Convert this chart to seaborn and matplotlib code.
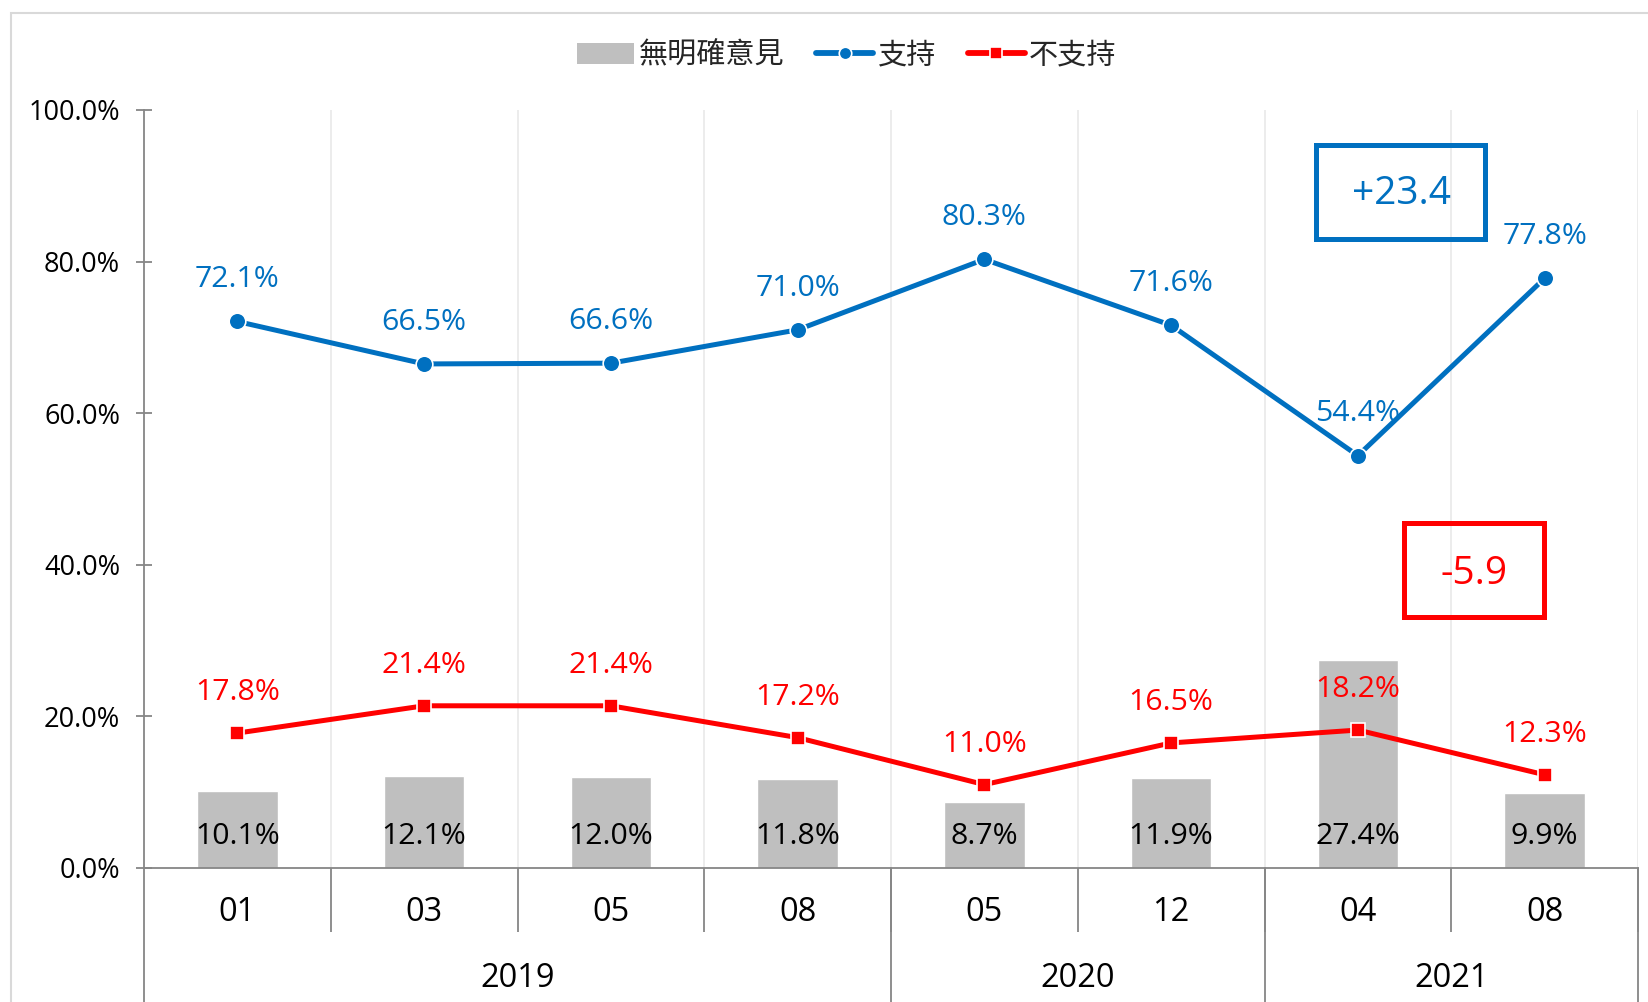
import matplotlib
matplotlib.use('Agg')
import matplotlib.pyplot as plt
from matplotlib.lines import Line2D
from matplotlib.patches import Patch, Rectangle
from matplotlib.ticker import FuncFormatter
import numpy as np
import pandas as pd
import seaborn as sns

# data
months = ['01', '03', '05', '08', '05', '12', '04', '08']
years = ['2019', '2020', '2021']
year_spans = [(0, 3), (4, 5), (6, 7)]
no_opinion = [10.1, 12.1, 12.0, 11.8, 8.7, 11.9, 27.4, 9.9]
support = [72.1, 66.5, 66.6, 71.0, 80.3, 71.6, 54.4, 77.8]
oppose = [17.8, 21.4, 21.4, 17.2, 11.0, 16.5, 18.2, 12.3]
series_names = ['無明確意見', '支持', '不支持']
change_support = '+23.4'
change_oppose = '-5.9'

BLUE = '#0070C0'
RED = '#FF0000'
GRAY = '#BFBFBF'
AXIS = '#868686'

sns.set_style('white')
plt.rcParams['font.family'] = ['Open Sans', 'Noto Sans CJK TC']

df = pd.DataFrame({'pos': range(len(months)), 'month': months,
                   'none': no_opinion, 'yes': support, 'no': oppose})

W, H = 1648, 1002
fig = plt.figure(figsize=(W / 100, H / 100), dpi=100)
ax = fig.add_axes([144 / W, 1 - 868 / H, (1638 - 144) / W, 758 / H])

# outer chart frame
fig.patches.append(Rectangle((11 / W, -0.05), 1.2, 1 - 13 / H + 0.05, transform=fig.transFigure,
                             fill=False, edgecolor='#D9D9D9', lw=1.5))

sns.barplot(data=df, x='pos', y='none', color=GRAY, saturation=1, width=0.43, ax=ax, zorder=2)
sns.lineplot(data=df, x='pos', y='yes', color=BLUE, lw=3.6, marker='o', ms=12,
             mec='white', mew=1.2, ax=ax, zorder=4)
sns.lineplot(data=df, x='pos', y='no', color=RED, lw=3.6, marker='s', ms=10.5,
             mec='white', mew=1.2, ax=ax, zorder=4)

ax.set_xlim(-0.5, len(months) - 0.5)
ax.set_ylim(0, 100)
ax.set_xlabel('')
ax.set_ylabel('')

for s in ['top', 'right']:
    ax.spines[s].set_visible(False)
for s in ['left', 'bottom']:
    ax.spines[s].set_color(AXIS)
    ax.spines[s].set_linewidth(1.3)

ax.set_yticks(np.arange(0, 101, 20))
ax.yaxis.set_major_formatter(FuncFormatter(lambda v, p: f'{v:.1f}%'))
ax.tick_params(axis='y', left=True, direction='inout', length=11.5, width=1.3, color=AXIS,
               labelsize=19.5, pad=11.5, labelcolor='black')

ax.set_xticks(range(len(months)), months)
ax.set_xticks(np.arange(0.5, len(months), 1), minor=True)
ax.tick_params(axis='x', which='major', bottom=True, length=0, labelsize=23.5, pad=20,
               labelcolor='black')
ax.tick_params(axis='x', which='minor', bottom=True, direction='out', length=46, width=1.3,
               color=AXIS)
ax.grid(False)
ax.grid(which='minor', axis='x', color='#EBEBEB', lw=1.3, zorder=0)
ax.set_axisbelow(True)

# year level of the category axis
trans = ax.get_xaxis_transform()
bounds = [a - 0.5 for a, b in year_spans] + [year_spans[-1][1] + 0.5]
for b in bounds:
    ax.add_line(Line2D([b, b], [0, -0.2], transform=trans, color=AXIS, lw=1.3, clip_on=False))
for name, (a, b) in zip(years, year_spans):
    ax.text((a + b) / 2, -0.146, name, transform=trans, ha='center', va='center',
            fontsize=23.5, color='black')

# data labels
for i, v in enumerate(support):
    ax.annotate(f'{v:.1f}%', (i, v), xytext=(0, 30), textcoords='offset points',
                ha='center', va='center', color=BLUE, fontsize=21.8, zorder=5)
for i, v in enumerate(oppose):
    ax.annotate(f'{v:.1f}%', (i, v), xytext=(0, 29), textcoords='offset points',
                ha='center', va='center', color=RED, fontsize=21.8, zorder=5)
for i, v in enumerate(no_opinion):
    ax.annotate(f'{v:.1f}%', (i, 0), xytext=(0, 23), textcoords='offset points',
                ha='center', va='center', color='black', fontsize=21.8, zorder=3)

# change boxes
ax.add_patch(Rectangle((0.7845, 0.8298), 0.1131, 0.124, transform=ax.transAxes, fill=False,
                       edgecolor=BLUE, lw=3.6, clip_on=False, zorder=6))
ax.text(0.842, 0.889, change_support, transform=ax.transAxes, ha='center', va='center',
        color=BLUE, fontsize=28, zorder=6)
ax.add_patch(Rectangle((0.8434, 0.3311), 0.0937, 0.124, transform=ax.transAxes, fill=False,
                       edgecolor=RED, lw=3.6, clip_on=False, zorder=6))
ax.text(0.890, 0.3875, change_oppose, transform=ax.transAxes, ha='center', va='center',
        color=RED, fontsize=28, zorder=6)

handles = [Patch(facecolor=GRAY, edgecolor='none'),
           Line2D([], [], color=BLUE, lw=4.2, marker='o', ms=9, mec='white', mew=1.2,
                  solid_capstyle='round'),
           Line2D([], [], color=RED, lw=4.2, marker='s', ms=9, mec='white', mew=1.2,
                  solid_capstyle='round')]
fig.legend(handles, series_names, loc='center', bbox_to_anchor=(847 / W, 1 - 56 / H), ncol=3,
           frameon=False, fontsize=21, handlelength=1.95, handletextpad=0.15, columnspacing=1.1)

fig.savefig('out.png', dpi=100)
